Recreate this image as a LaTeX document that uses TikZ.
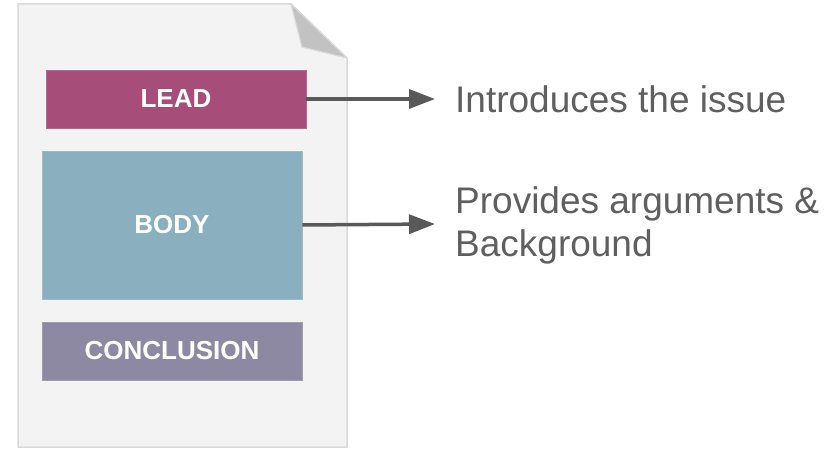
\documentclass[tikz,border=0pt]{standalone}
\usepackage{fontspec}
\setmainfont{Liberation Sans}
\usetikzlibrary{arrows.meta}
\definecolor{pagefill}{HTML}{F3F3F3}
\definecolor{pageline}{HTML}{D9D9D9}
\definecolor{foldfill}{HTML}{C2C2C2}
\definecolor{leadcol}{HTML}{A64D79}
\definecolor{bodycol}{HTML}{8AAFBF}
\definecolor{conccol}{HTML}{8E89A3}
\definecolor{arrowcol}{HTML}{595959}
\definecolor{textcol}{HTML}{5F5F5F}

\begin{document}
\begin{tikzpicture}[x=1pt,y=-1pt,
	part/.style={draw=#1!85!white, line width=0.8pt, fill=#1, inner sep=0pt,
		text=white, font=\fontsize{26}{30}\selectfont\bfseries},
	pointer/.style={draw=arrowcol, line width=3.5pt, -{Triangle[length=26pt,width=19pt]}},
	note/.style={text=textcol, inner sep=0pt, anchor=base west, align=left,
		font=\fontsize{37}{43}\selectfont}]
	\path[use as bounding box] (0,0) rectangle (830,449);

	% page with folded corner
	\draw[pageline, line width=1.5pt, fill=pagefill, line join=round]
		(18,4) -- (291,4) -- (347,58) -- (347,447) -- (18,447) -- cycle;
	\draw[pageline, line width=1.2pt, fill=foldfill, line join=round]
		(291,4) -- (302,47) -- (347,58) -- cycle;

	\node[part=leadcol, minimum width=260pt, minimum height=58pt] (lead) at (176,99) {LEAD};
	\node[part=bodycol, minimum width=260pt, minimum height=148pt] (body) at (172,225) {BODY};
	\node[part=conccol, minimum width=260pt, minimum height=58pt] (conclusion) at (172,351) {CONCLUSION};

	\coordinate (leadtip) at (435,99);
	\coordinate (bodytip) at (435,224);
	\draw[pointer] (lead.east) -- (leadtip);
	\draw[pointer] (body.east) -- (bodytip);

	% base of a two-line node is its last line
	\node[note] (leadnote) at (455,113) {Introduces the issue};
	\node[note] (bodynote) at (455,256) {Provides arguments \&\\Background};
\end{tikzpicture}
\end{document}
